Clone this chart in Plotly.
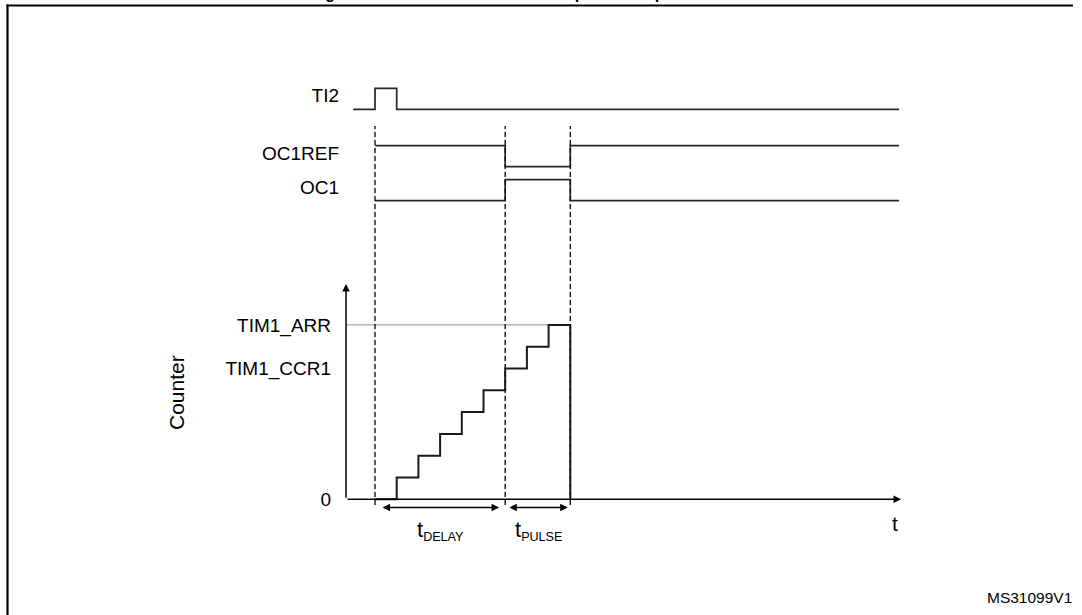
import plotly.graph_objects as go

# ---------------- data ----------------
SIGNAL_NAMES = ["TI2", "OC1REF", "OC1"]
TI2_T = [-1, 0, 1, 24.15]
TI2_V = [0, 1, 0, 0]
OC1REF_T = [0, 6, 9, 24.15]
OC1REF_V = [1, 0, 1, 1]
OC1_T = [0, 6, 9, 24.15]
OC1_V = [0, 1, 0, 0]
COUNTER_T = [0, 1, 2, 3, 4, 5, 6, 7, 8, 9, 9]
COUNTER_V = [0, 1, 2, 3, 4, 5, 6, 7, 8, 8, 0]
EVENT_T = [0, 6, 9]          # trigger, compare match, update event
ARR = 8
CCR1 = 6
COUNTER_TICKS = [0, CCR1, ARR]
COUNTER_LABELS = ["0", "TIM1_CCR1", "TIM1_ARR"]
T_END = 24.24                 # end of time axis arrow
V_TOP = 9.88                  # top of counter axis arrow

# ---------------- geometry / style ----------------
W, H = 1082, 615
ML = 346
T0_PX, PX_PER_T = 375.0, 21.7
V0_PX, PX_PER_V = 499.3, 21.8
PX_PER_U = 21.0
ROW_BASE = {"TI2": (H - 109.3) / PX_PER_U,
            "OC1REF": (H - 166.7) / PX_PER_U,
            "OC1": (H - 200.7) / PX_PER_U}
FONT = "Arial, Liberation Sans, sans-serif"
SIG_COLOR = "#262626"

x_range = [(ML - T0_PX) / PX_PER_T, (W - T0_PX) / PX_PER_T]
y_range = [(V0_PX - H) / PX_PER_V, V0_PX / PX_PER_V]
y2_range = [0, H / PX_PER_U]
T_LEFT = x_range[0]


def xp(px):
    return (px - ML) / (W - ML)


def yp(py):
    return 1 - py / H


def vy(py):
    return (V0_PX - py) / PX_PER_V


fig = go.Figure()

signals = {"TI2": (TI2_T, TI2_V), "OC1REF": (OC1REF_T, OC1REF_V), "OC1": (OC1_T, OC1_V)}
for name in SIGNAL_NAMES:
    t, v = signals[name]
    fig.add_trace(go.Scatter(
        x=t, y=[ROW_BASE[name] + val for val in v], yaxis="y2", mode="lines",
        line=dict(shape="hv", color=SIG_COLOR, width=1.7), hoverinfo="skip", showlegend=False))

# ARR reference line
fig.add_trace(go.Scatter(x=[T_LEFT, EVENT_T[2]], y=[ARR, ARR], mode="lines",
                         line=dict(color="#a6a6a6", width=1.2), hoverinfo="skip", showlegend=False))
# counter staircase
fig.add_trace(go.Scatter(x=COUNTER_T, y=COUNTER_V, mode="lines",
                         line=dict(shape="hv", color="#1a1a1a", width=2), hoverinfo="skip",
                         showlegend=False))

shapes = []
for t in EVENT_T:
    shapes.append(dict(type="line", xref="x", yref="y", x0=t, x1=t, y0=vy(505), y1=vy(126),
                       line=dict(color="#111", width=1.4, dash="5px,3px")))
# frame: only top and left edges are visible in the cropped figure
shapes.append(dict(type="line", xref="paper", yref="paper", x0=xp(6.5), x1=xp(1073),
                   y0=yp(5.5), y1=yp(5.5), line=dict(color="black", width=2.2)))
shapes.append(dict(type="line", xref="paper", yref="paper", x0=xp(7.5), x1=xp(7.5),
                   y0=yp(4.5), y1=yp(640), line=dict(color="black", width=2.2)))

ann = []
# axes with arrow heads
ann.append(dict(x=T_LEFT, y=V_TOP, ax=T_LEFT, ay=0, xref="x", yref="y", axref="x", ayref="y",
                showarrow=True, arrowhead=2, arrowsize=1, arrowwidth=1.5, arrowcolor="black",
                standoff=0, text=""))
ann.append(dict(x=T_END, y=0, ax=T_LEFT, ay=0, xref="x", yref="y", axref="x", ayref="y",
                showarrow=True, arrowhead=2, arrowsize=1, arrowwidth=1.5, arrowcolor="black",
                standoff=0, text=""))
# duration arrows
for a, b in [(EVENT_T[0] + 0.28, EVENT_T[1] - 0.28), (EVENT_T[1] + 0.12, EVENT_T[2] - 0.12)]:
    ann.append(dict(x=b, y=vy(507.5), ax=a, ay=vy(507.5), xref="x", yref="y", axref="x",
                    ayref="y", showarrow=True, arrowhead=2, arrowside="end+start", arrowsize=1,
                    arrowwidth=1.5, arrowcolor="black", standoff=0, startstandoff=0, text=""))
ann.append(dict(x=(EVENT_T[0] + EVENT_T[1]) / 2, y=vy(530), xref="x", yref="y",
                xanchor="center", yanchor="middle",
                text="<span style='font-size:22px'>t</span><sub>DELAY</sub>", showarrow=False,
                font=dict(size=18, family=FONT, color="black")))
ann.append(dict(x=(EVENT_T[1] + EVENT_T[2]) / 2 + 0.05, y=vy(530), xref="x", yref="y",
                xanchor="center", yanchor="middle",
                text="<span style='font-size:22px'>t</span><sub>PULSE</sub>", showarrow=False,
                font=dict(size=18, family=FONT, color="black")))
ann.append(dict(x=(895 - T0_PX) / PX_PER_T, y=vy(523), xref="x", yref="y", text="t",
                xanchor="center", yanchor="middle",
                showarrow=False, font=dict(size=21, family=FONT, color="black")))
ann.append(dict(x=xp(176), y=yp(393), xref="paper", yref="paper", text="Counter", textangle=-90,
                xanchor="center", yanchor="middle",
                showarrow=False, font=dict(size=21, family=FONT, color="black")))
ann.append(dict(x=xp(1074), y=yp(597), xref="paper", yref="paper", text="MS31099V1",
                xanchor="right", yanchor="middle", showarrow=False,
                font=dict(size=15.5, family=FONT, color="black")))
# clipped figure caption at the very top
ann.append(dict(x=xp(309), y=yp(-6), xref="paper", yref="paper", text="<b>Figure 126.</b>",
                xanchor="left", yanchor="middle", showarrow=False,
                font=dict(size=16, family=FONT, color="black")))
ann.append(dict(x=xp(530), y=yp(-6), xref="paper", yref="paper",
                text="<b>Example of one pulse mode</b>", xanchor="left", yanchor="middle",
                showarrow=False, font=dict(size=16, family=FONT, color="black")))

fig.update_layout(
    width=W, height=H,
    margin=dict(l=ML, r=0, t=0, b=0, pad=0),
    paper_bgcolor="white", plot_bgcolor="white",
    showlegend=False,
    xaxis=dict(range=x_range, visible=False, fixedrange=True),
    yaxis=dict(range=y_range, showgrid=False, zeroline=False, showline=False, ticks="",
               tickvals=COUNTER_TICKS, ticktext=COUNTER_LABELS, automargin=False,
               ticklabelstandoff=14, tickfont=dict(size=19, family=FONT, color="black"),
               fixedrange=True),
    yaxis2=dict(range=y2_range, overlaying="y", side="left", showgrid=False, zeroline=False,
                showline=False, ticks="", automargin=False,
                tickvals=[ROW_BASE[n] + 0.65 for n in SIGNAL_NAMES], ticktext=SIGNAL_NAMES,
                ticklabelstandoff=6, tickfont=dict(size=19, family=FONT, color="black"),
                fixedrange=True),
    shapes=shapes,
    annotations=ann,
)

fig.write_html("out.html", config={"displayModeBar": False},
               post_script="document.body.style.margin='0';document.body.style.overflow='hidden';")
